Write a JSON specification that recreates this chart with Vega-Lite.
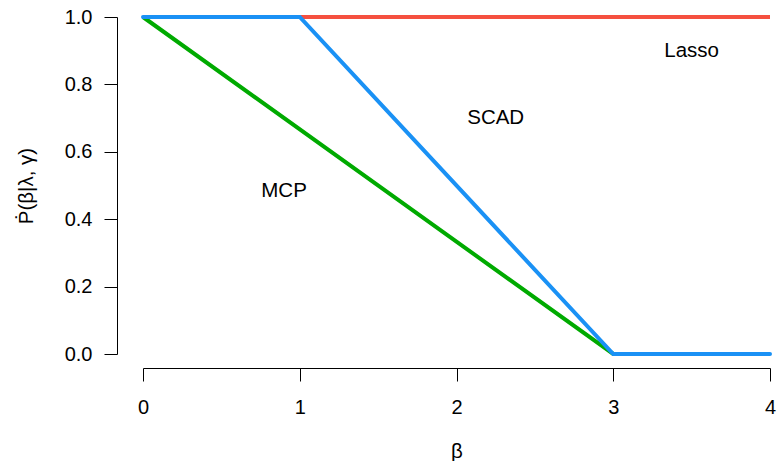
{
  "$schema": "https://vega.github.io/schema/vega-lite/v6.json",
  "autosize": "none",
  "width": 627,
  "height": 337,
  "padding": {"left": 143, "top": 17, "right": 7, "bottom": 107},
  "background": "white",
  "config": {
    "view": {"stroke": null},
    "font": "Liberation Sans",
    "axis": {
      "grid": false,
      "domainColor": "black",
      "domainWidth": 1,
      "tickColor": "black",
      "tickWidth": 1,
      "tickSize": 13,
      "labelFlush": false,
      "labelOverlap": false,
      "labelColor": "black",
      "labelFont": "Liberation Sans",
      "labelFontSize": 20,
      "titleFont": "Liberation Sans",
      "titleFontSize": 20.5,
      "titleFontWeight": "normal",
      "titleColor": "black"
    }
  },
  "datasets": {
    "curves": [
      {"penalty": "Lasso", "beta": 0, "deriv": 1},
      {"penalty": "Lasso", "beta": 4, "deriv": 1},
      {"penalty": "MCP", "beta": 0, "deriv": 1},
      {"penalty": "MCP", "beta": 3, "deriv": 0},
      {"penalty": "MCP", "beta": 4, "deriv": 0},
      {"penalty": "SCAD", "beta": 0, "deriv": 1},
      {"penalty": "SCAD", "beta": 1, "deriv": 1},
      {"penalty": "SCAD", "beta": 3, "deriv": 0},
      {"penalty": "SCAD", "beta": 4, "deriv": 0}
    ],
    "labels": [
      {"label": "Lasso", "beta": 3.5, "deriv": 0.9},
      {"label": "SCAD", "beta": 2.25, "deriv": 0.7},
      {"label": "MCP", "beta": 0.9, "deriv": 0.485}
    ]
  },
  "layer": [
    {
      "data": {"name": "curves"},
      "transform": [{"filter": "datum.penalty === 'Lasso'"}],
      "mark": {"type": "line", "color": "#F5503F", "strokeWidth": 4, "strokeCap": "butt"},
      "encoding": {
        "x": {
          "field": "beta", "type": "quantitative",
          "scale": {"domain": [0, 4], "nice": false, "zero": false},
          "axis": {"title": "β", "values": [0, 1, 2, 3, 4], "format": "d", "offset": 14, "labelPadding": 16, "titlePadding": 24}
        },
        "y": {
          "field": "deriv", "type": "quantitative",
          "scale": {"domain": [0, 1], "nice": false, "zero": false},
          "axis": {"title": "Ṗ(β|λ, γ)", "values": [0, 0.2, 0.4, 0.6, 0.8, 1], "format": ".1f", "offset": 26, "labelPadding": 12, "titlePadding": 28}
        }
      }
    },
    {
      "data": {"name": "curves"},
      "transform": [{"filter": "datum.penalty === 'MCP'"}],
      "mark": {"type": "line", "color": "#00AA00", "strokeWidth": 4, "strokeCap": "butt"},
      "encoding": {
        "x": {"field": "beta", "type": "quantitative"},
        "y": {"field": "deriv", "type": "quantitative"}
      }
    },
    {
      "data": {"name": "curves"},
      "transform": [{"filter": "datum.penalty === 'SCAD'"}],
      "mark": {"type": "line", "color": "#1A91F5", "strokeWidth": 4, "strokeCap": "round"},
      "encoding": {
        "x": {"field": "beta", "type": "quantitative"},
        "y": {"field": "deriv", "type": "quantitative"}
      }
    },
    {
      "data": {"name": "labels"},
      "mark": {"type": "text", "fontSize": 20.5, "font": "Liberation Sans", "color": "black", "baseline": "middle", "align": "center"},
      "encoding": {
        "x": {"field": "beta", "type": "quantitative"},
        "y": {"field": "deriv", "type": "quantitative"},
        "text": {"field": "label"}
      }
    }
  ]
}
